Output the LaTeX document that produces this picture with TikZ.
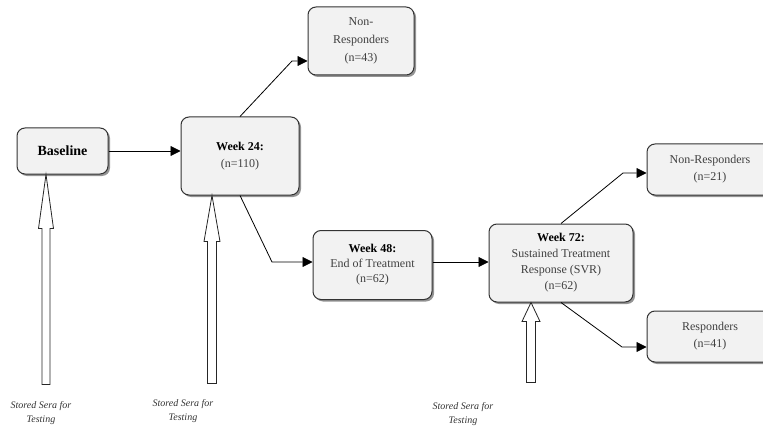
\documentclass[tikz,border=0pt]{standalone}
\usepackage{fontspec}
\setmainfont{Liberation Serif}
\usetikzlibrary{arrows.meta,shadows}

\tikzset{
  box/.style={draw=black!80, line width=1pt, fill=black!5, rounded corners=8pt,
    align=center, inner sep=0pt, text=black!75, font=\fontsize{12}{16}\selectfont,
    drop shadow={shadow xshift=2pt, shadow yshift=-2pt, fill=black!60, opacity=0.7}},
  flow/.style={line width=0.8pt, -{Triangle[length=10pt,width=10pt]}},
  sera/.style={draw=black!85, line width=0.8pt, fill=white},
  seralabel/.style={align=center, text=black!80, font=\fontsize{10}{14}\selectfont\itshape}
}
\newcommand{\hd}[1]{\textcolor{black}{\textbf{#1}}}

\begin{document}
\begin{tikzpicture}[x=1pt,y=-1pt]
\useasboundingbox (0,0) rectangle (763,433);

\node[box, minimum width=91, minimum height=46, font=\fontsize{14}{16}\selectfont\bfseries, text=black] (base) at (62.5,151) {Baseline};
\node[box, minimum width=118, minimum height=78, font=\fontsize{12}{17}\selectfont] (w24) at (240,156) {\hd{Week 24:}\\(n=110)};
\node[box, minimum width=106, minimum height=68, font=\fontsize{12}{18}\selectfont] (nr43) at (361,41) {Non-\\Responders\\(n=43)};
\node[box, minimum width=119, minimum height=69, font=\fontsize{12}{15}\selectfont] (w48) at (372.5,265) {\hd{Week 48:}\\End of Treatment\\(n=62)};
\node[box, minimum width=144, minimum height=78] (w72) at (561,263) {\hd{Week 72:}\\Sustained Treatment\\Response (SVR)\\(n=62)};
\node[box, minimum width=126, minimum height=51, font=\fontsize{12}{17}\selectfont] (nr21) at (710,169.5) {Non-Responders\\(n=21)};
\node[box, minimum width=126, minimum height=51, font=\fontsize{12}{17}\selectfont] (r41) at (710,336.5) {Responders\\(n=41)};

% flow between the visits
\draw[flow] (base.east) -- (base.east -| w24.west);
\coordinate (k1) at (292,61);
\draw[flow] (w24.north) -- (k1) -- (k1 -| nr43.west);
\coordinate (k2) at (272,262);
\draw[flow] (w24.south) -- (k2) -- (k2 -| w48.west);
\draw[flow] (w48.east |- k2) -- (k2 -| w72.west);
\coordinate (k3) at (623,173);
\draw[flow] (w72.north) -- (k3) -- (k3 -| nr21.west);
\coordinate (k4) at (622,347);
\draw[flow] (w72.south) -- (k4) -- (k4 -| r41.west);

% stored sera
\draw[sera] ([xshift=-16.5]base.south) -- ++(7.5,54) -- ++(-3.5,0) -- ++(0,156) -- ++(-8,0) -- ++(0,-156) -- ++(-3.5,0) -- cycle;
\draw[sera] ([xshift=-28]w24.south) -- ++(8,46) -- ++(-3.5,0) -- ++(0,142) -- ++(-9,0) -- ++(0,-142) -- ++(-3.5,0) -- cycle;
\draw[sera] ([xshift=-30]w72.south) -- ++(9,19) -- ++(-4.5,0) -- ++(0,61) -- ++(-9,0) -- ++(0,-61) -- ++(-4.5,0) -- cycle;

\node[seralabel] (s1) at (41,413) {Stored Sera for\\Testing};
\node[seralabel] (s2) at (183,411) {Stored Sera for\\Testing};
\node[seralabel] (s3) at (463,414) {Stored Sera for\\Testing};

\end{tikzpicture}
\end{document}
